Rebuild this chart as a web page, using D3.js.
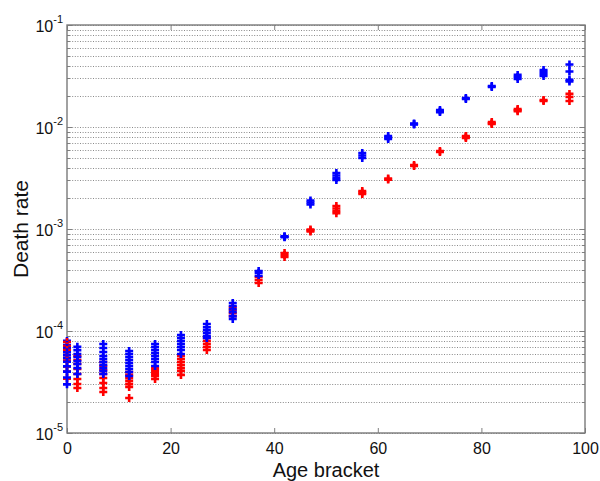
<!DOCTYPE html>
<html>
<head>
<meta charset="utf-8">
<script src="https://cdn.jsdelivr.net/npm/d3@7"></script>
<style>
  body { margin: 0; background: #fff; }
  svg { display: block; }
</style>
</head>
<body>
<svg id="chart" width="600" height="481"></svg>
<script>
// Age bracket positions (years)
const ages = [0, 2, 7, 12, 17, 22, 27, 32, 37, 42, 47, 52, 57, 62, 67, 72, 77, 82, 87, 92, 97];

// Death rates per age bracket, one value per observation
const blueRates = [
  [8.0e-5, 7.3e-5, 6.8e-5, 6.2e-5, 5.8e-5, 5.4e-5, 5.0e-5, 4.5e-5, 4.0e-5, 3.5e-5, 3.0e-5],
  [7.0e-5, 6.5e-5, 5.95e-5, 5.56e-5, 5.08e-5, 4.74e-5, 4.33e-5, 3.79e-5],
  [7.46e-5, 6.81e-5, 6.22e-5, 5.69e-5, 5.31e-5, 4.97e-5, 4.64e-5, 4.33e-5, 4.06e-5, 3.79e-5],
  [6.37e-5, 5.95e-5, 5.56e-5, 5.2e-5, 4.85e-5, 4.54e-5, 4.24e-5, 3.96e-5, 3.62e-5],
  [7.46e-5, 6.96e-5, 6.51e-5, 6.08e-5, 5.69e-5, 5.31e-5, 4.97e-5, 4.54e-5],
  [9.14e-5, 8.53e-5, 7.98e-5, 7.46e-5, 6.96e-5, 6.51e-5, 5.95e-5],
  [1.17e-4, 1.09e-4, 1.02e-4, 9.55e-5, 8.93e-5, 8.53e-5],
  [1.88e-4, 1.76e-4, 1.64e-4, 1.53e-4, 1.40e-4, 1.31e-4],
  [3.87e-4, 3.71e-4, 3.46e-4],
  [8.5e-4, 8.4e-4, 8.3e-4],
  [1.90e-3, 1.82e-3, 1.74e-3],
  [3.54e-3, 3.35e-3, 3.16e-3, 3.02e-3],
  [5.56e-3, 5.26e-3, 4.97e-3],
  [8.17e-3, 7.9e-3, 7.63e-3],
  [1.08e-2, 1.07e-2, 1.06e-2],
  [1.47e-2, 1.43e-2, 1.40e-2],
  [1.92e-2, 1.88e-2],
  [2.52e-2, 2.47e-2],
  [3.24e-2, 3.09e-2, 2.96e-2],
  [3.62e-2, 3.46e-2, 3.31e-2, 3.16e-2],
  [4.1e-2, 3.5e-2, 2.9e-2, 2.8e-2]
];

const redRates = [
  [7.8e-5, 7.1e-5, 6.5e-5, 5.8e-5, 5.4e-5, 5.1e-5, 4.5e-5, 4.0e-5, 3.4e-5],
  [5.69e-5, 5.2e-5, 4.74e-5, 4.24e-5, 3.79e-5, 3.38e-5, 3.02e-5, 2.76e-5],
  [4.97e-5, 4.54e-5, 4.15e-5, 3.79e-5, 3.46e-5, 3.09e-5, 2.76e-5, 2.52e-5],
  [3.96e-5, 3.71e-5, 3.46e-5, 3.24e-5, 3.02e-5, 2.83e-5, 2.2e-5],
  [4.33e-5, 4.15e-5, 3.96e-5, 3.79e-5, 3.62e-5, 3.38e-5],
  [5.69e-5, 5.31e-5, 4.97e-5, 4.64e-5, 4.33e-5, 4.06e-5, 3.71e-5],
  [8.53e-5, 7.98e-5, 7.46e-5, 6.96e-5, 6.51e-5],
  [1.72e-4, 1.61e-4, 1.50e-4, 1.40e-4],
  [3.38e-4, 3.16e-4, 2.96e-4],
  [5.82e-4, 5.56e-4, 5.31e-4],
  [9.89e-4, 9.67e-4, 9.45e-4],
  [1.68e-3, 1.59e-3, 1.50e-3, 1.43e-3],
  [2.36e-3, 2.28e-3, 2.20e-3],
  [3.13e-3, 3.05e-3],
  [4.24e-3, 4.15e-3],
  [5.82e-3, 5.69e-3],
  [8.17e-3, 7.98e-3, 7.80e-3],
  [1.12e-2, 1.09e-2, 1.07e-2],
  [1.50e-2, 1.46e-2, 1.43e-2],
  [1.84e-2, 1.80e-2],
  [2.11e-2, 1.97e-2, 1.80e-2]
];

// Tick labels
const xTickValues = [0, 20, 40, 60, 80, 100];
const yDecadeExponents = [-5, -4, -3, -2, -1];

const svg = d3.select("#chart");
const plot = { left: 67, right: 585, top: 25, bottom: 433 };

const x = d3.scaleLinear().domain([0, 100]).range([plot.left, plot.right]);
const y = d3.scaleLog().domain([1e-5, 1e-1]).range([plot.bottom, plot.top]);

const font = "'Liberation Sans', Arial, Helvetica, sans-serif";

// Dotted grid at every log tick (1..9 per decade)
const gridValues = y.ticks();
svg.append("g")
  .selectAll("line")
  .data(gridValues)
  .join("line")
  .attr("x1", plot.left)
  .attr("x2", plot.right)
  .attr("y1", d => Math.round(y(d)) + 0.5)
  .attr("y2", d => Math.round(y(d)) + 0.5)
  .attr("stroke", "#8a8a8a")
  .attr("stroke-width", 1)
  .attr("stroke-dasharray", "1,1.6");

// Minor ticks on both y edges
const isDecade = d => Math.abs(Math.log10(d) - Math.round(Math.log10(d))) < 1e-9;
const tickG = svg.append("g").attr("stroke", "#808080").attr("stroke-width", 1);
gridValues.forEach(d => {
  const len = isDecade(d) ? 5 : 3;
  const yy = Math.round(y(d)) + 0.5;
  tickG.append("line").attr("x1", plot.left).attr("x2", plot.left + len).attr("y1", yy).attr("y2", yy);
  tickG.append("line").attr("x1", plot.right).attr("x2", plot.right - len).attr("y1", yy).attr("y2", yy);
});

// x axis (bottom) with inward ticks
const xAxis = svg.append("g")
  .attr("transform", `translate(0,${plot.bottom})`)
  .call(d3.axisBottom(x).tickValues(xTickValues).tickSize(-5).tickPadding(10));
xAxis.select(".domain").remove();
xAxis.selectAll(".tick line").attr("stroke", "#808080");
xAxis.selectAll(".tick text")
  .attr("font-family", font).attr("font-size", 16).attr("fill", "#111");

// Matching inward ticks along the top edge
svg.append("g")
  .attr("transform", `translate(0,${plot.top})`)
  .call(d3.axisTop(x).tickValues(xTickValues).tickSize(-5).tickFormat(""))
  .call(g => g.select(".domain").remove())
  .call(g => g.selectAll(".tick line").attr("stroke", "#808080"));

// y axis labels as powers of ten
const yAxis = svg.append("g")
  .attr("transform", `translate(${plot.left},0)`)
  .call(d3.axisLeft(y)
    .tickValues(yDecadeExponents.map(e => Math.pow(10, e)))
    .tickSize(0).tickPadding(4).tickFormat(""));
yAxis.select(".domain").remove();
yAxis.selectAll(".tick text")
  .attr("font-family", font).attr("font-size", 16).attr("fill", "#111")
  .attr("dy", "0.4em")
  .each(function (d, i) {
    const t = d3.select(this);
    t.append("tspan").text("10");
    t.append("tspan").attr("font-size", 11).attr("dy", -8.5)
      .text(String(yDecadeExponents[i]));
  });

// Plot frame
svg.append("rect")
  .attr("x", plot.left).attr("y", plot.top)
  .attr("width", plot.right - plot.left).attr("height", plot.bottom - plot.top)
  .attr("fill", "none").attr("stroke", "#7a7a7a").attr("stroke-width", 1.4);

// Markers: observations of both series are drawn interleaved, so that
// overlapping clusters show both colours
const plusPath = "M-4,0H4M0,-4V4";
const points = [];
ages.forEach((a, i) => {
  const n = Math.max(blueRates[i].length, redRates[i].length);
  for (let j = 0; j < n; j++) {
    if (j < blueRates[i].length) points.push({ age: a, v: blueRates[i][j], color: "#0000ff" });
    if (j < redRates[i].length) points.push({ age: a, v: redRates[i][j], color: "#ff0000" });
  }
});
svg.append("g")
  .selectAll("path")
  .data(points)
  .join("path")
  .attr("d", plusPath)
  .attr("transform", d => `translate(${x(d.age)},${y(d.v)})`)
  .attr("fill", "none")
  .attr("stroke", d => d.color)
  .attr("stroke-width", 2.6);

// Axis titles
svg.append("text")
  .attr("x", (plot.left + plot.right) / 2)
  .attr("y", 476.5)
  .attr("text-anchor", "middle")
  .attr("font-family", font).attr("font-size", 20).attr("fill", "#111")
  .text("Age bracket");

svg.append("text")
  .attr("transform", `translate(28,${(plot.top + plot.bottom) / 2}) rotate(-90)`)
  .attr("text-anchor", "middle")
  .attr("font-family", font).attr("font-size", 21).attr("fill", "#111")
  .text("Death rate");
</script>
</body>
</html>
